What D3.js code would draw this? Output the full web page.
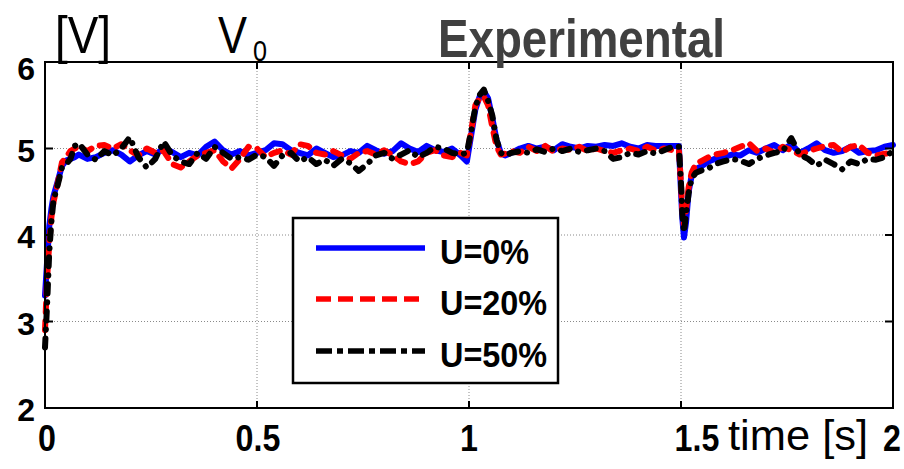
<!DOCTYPE html>
<meta charset="utf-8">
<style>
body { margin: 0; background: #fff; }
text { font-family: "Liberation Sans", Arial, sans-serif; }
.grid line { stroke: #8a8a8a; stroke-width: 1; stroke-dasharray: 1,2; }
.ticks line { stroke: #000; stroke-width: 2; }
</style>
<svg width="904" height="469"></svg>
<script src="https://d3js.org/d3.v7.min.js"></script>
<script>

// time samples [s]
var time = [
  0, 0.005, 0.01, 0.015, 0.02, 0.03, 0.04, 0.05, 0.06, 0.07, 0.08,
  0.10, 0.12, 0.14, 0.16, 0.18, 0.20, 0.22, 0.24, 0.26, 0.28,
  0.30, 0.32, 0.34, 0.36, 0.38, 0.40, 0.42, 0.44, 0.46, 0.48,
  0.50, 0.52, 0.54, 0.56, 0.58, 0.60, 0.62, 0.64, 0.66, 0.68,
  0.70, 0.72, 0.74, 0.76, 0.78, 0.80, 0.82, 0.84, 0.86, 0.88,
  0.90, 0.92, 0.94, 0.96, 0.98,
  0.995, 1.005, 1.015, 1.025, 1.035, 1.045, 1.055, 1.065, 1.075, 1.085,
  1.10, 1.12, 1.14, 1.16, 1.18, 1.20, 1.22, 1.24, 1.26, 1.28,
  1.30, 1.32, 1.34, 1.36, 1.38, 1.40, 1.42, 1.44, 1.46, 1.48, 1.495,
  1.5, 1.503, 1.507, 1.512, 1.518, 1.525, 1.535, 1.55, 1.565, 1.58,
  1.60, 1.62, 1.64, 1.66, 1.68, 1.70, 1.72, 1.74, 1.76, 1.78,
  1.80, 1.82, 1.84, 1.86, 1.88, 1.90, 1.92, 1.94, 1.96, 1.98, 2.0
];

// V0 [V], U=0%
var u0 = [
  3.3, 3.7, 4.1, 4.3, 4.45, 4.62, 4.8, 4.86, 4.88, 4.9, 4.93,
  4.88, 4.90, 4.95, 4.98, 4.93, 4.85, 4.92, 4.97, 4.93, 5.00,
  4.96, 4.90, 4.95, 4.92, 5.02, 5.08, 4.98, 4.93, 4.97, 4.92,
  4.95, 4.98, 5.06, 5.05, 4.98, 4.95, 4.92, 5.00, 4.95, 4.90,
  4.92, 4.97, 4.95, 5.03, 4.98, 4.94, 4.97, 5.06, 5.00, 4.96,
  5.03, 4.98, 4.96, 5.00, 4.92,
  4.85, 5.15, 5.45, 5.6, 5.66, 5.58, 5.35, 5.1, 4.95, 4.92,
  4.95, 5.0, 5.03, 5.0, 5.02, 4.98, 5.05, 5.02, 5.0, 5.03,
  5.02, 5.04, 5.03, 5.06, 5.02, 5.0, 5.04, 5.03, 5.03, 5.03, 5.03,
  4.5, 4.2, 3.97, 4.15, 4.5, 4.68, 4.76, 4.80, 4.85, 4.88,
  4.9, 4.93, 4.92, 4.98, 4.95, 5.0, 5.04, 4.98, 5.05, 4.95,
  5.0, 5.06, 4.98, 4.95, 4.97, 5.02, 4.95, 4.97, 4.98, 5.02, 5.04
];

// U=20%
var u20 = [
  2.9, 3.5, 3.9, 4.2, 4.38, 4.6, 4.84, 4.9, 4.97, 5.0, 5.02,
  4.97, 5.03, 5.04, 5.0, 5.05, 4.98, 4.92, 5.0, 4.95, 4.97,
  4.82, 4.78, 4.85, 4.92, 4.95, 4.98, 4.85, 4.77, 4.88, 5.02,
  5.0, 4.9, 4.95, 4.98, 4.93, 5.05, 5.03, 4.95, 4.93, 4.97,
  4.92, 4.88, 4.95, 4.97, 4.93, 4.98, 4.92, 4.85, 4.82, 4.85,
  4.95, 4.98, 4.92, 4.90, 4.95,
  4.92, 5.2, 5.5, 5.58, 5.6, 5.5, 5.25, 5.02, 4.93, 4.94,
  4.97, 4.95, 5.02, 4.97, 5.03, 4.96, 5.0, 4.98, 5.02, 4.97,
  5.0, 4.97, 4.95, 4.98, 5.0, 4.97, 5.02, 4.98, 5.0, 4.98, 4.98,
  4.6, 4.3, 4.1, 4.3, 4.55, 4.72, 4.82, 4.86, 4.9, 4.93,
  4.95, 4.98, 5.02, 5.06, 4.97, 5.0, 4.95, 5.02, 4.98, 4.93,
  4.97, 5.0, 5.03, 5.04, 4.96, 5.02, 5.04, 4.95, 4.92, 4.94, 4.95
];

// U=50%
var u50 = [
  2.7, 3.2, 3.8, 4.15, 4.4, 4.58, 4.78, 4.82, 4.88, 5.03, 5.06,
  4.93, 4.87, 4.97, 4.92, 5.0, 5.13, 4.9, 4.78, 4.88, 5.08,
  4.92, 4.85, 4.82, 4.95, 4.88, 5.02, 4.95, 4.88, 4.9, 4.87,
  4.93, 4.9, 4.8, 4.92, 4.95, 4.85, 4.9, 4.82, 4.87, 4.8,
  4.88, 4.83, 4.74, 4.82, 4.92, 4.95, 4.88, 4.93, 4.98, 4.9,
  4.95, 5.02, 5.0, 4.95, 4.93,
  4.95, 5.2, 5.48, 5.62, 5.68, 5.55, 5.38, 5.1, 4.95, 4.92,
  4.95, 4.97, 4.95, 4.99, 4.96, 5.0, 4.97, 5.0, 4.96, 4.98,
  5.0, 4.97, 4.88, 4.9, 4.95, 4.93, 4.97, 4.94, 4.98, 5.02, 5.02,
  4.6, 4.25, 4.03, 4.25, 4.48, 4.65, 4.72, 4.75, 4.77, 4.82,
  4.85, 4.88, 4.86, 4.82, 4.88, 4.92, 4.95, 4.97, 5.12, 4.93,
  4.88, 4.8, 4.87, 4.82, 4.76, 4.85, 4.82, 4.88, 4.87, 4.9, 4.97
];

var xTicks = [0, 0.5, 1, 1.5, 2];
var yTicks = [2, 3, 4, 5, 6];
var names = ["U=0%", "U=20%", "U=50%"];
var colors = ["#0000ff", "#ff0000", "#000000"];

var svg = d3.select("svg");
var x = d3.scaleLinear().domain([0, 2]).range([45, 893]);
var y = d3.scaleLinear().domain([2, 6]).range([408, 62]);

// grid
var grid = svg.append("g").attr("class", "grid");
grid.selectAll(".gx").data([0.5, 1, 1.5]).enter().append("line")
    .attr("x1", d => x(d)).attr("x2", d => x(d))
    .attr("y1", y(6)).attr("y2", y(2));
grid.selectAll(".gy").data([3, 4, 5]).enter().append("line")
    .attr("x1", x(0)).attr("x2", x(2))
    .attr("y1", d => y(d)).attr("y2", d => y(d));

// series
var line = d3.line()
    .x((d, i) => x(time[i]))
    .y(d => y(d));

var plotDash = [null, "9,9", "9,9,0.1,9"];

[u0, u20, u50].forEach(function(s, k) {
  svg.append("path")
      .datum(s)
      .attr("d", line)
      .attr("fill", "none")
      .attr("stroke", colors[k])
      .attr("stroke-width", 6)
      .attr("stroke-linejoin", "round")
      .attr("stroke-linecap", "round")
      .attr("stroke-dasharray", plotDash[k]);
});

// axes box + ticks
svg.append("rect")
    .attr("x", x(0)).attr("y", y(6))
    .attr("width", x(2) - x(0)).attr("height", y(2) - y(6))
    .attr("fill", "none").attr("stroke", "#000").attr("stroke-width", 2);

var ticks = svg.append("g").attr("class", "ticks");
xTicks.forEach(function(t) {
  ticks.append("line").attr("x1", x(t)).attr("x2", x(t)).attr("y1", y(2)).attr("y2", y(2) - 7);
  ticks.append("line").attr("x1", x(t)).attr("x2", x(t)).attr("y1", y(6)).attr("y2", y(6) + 7);
});
yTicks.forEach(function(v) {
  ticks.append("line").attr("x1", x(0)).attr("x2", x(0) + 8).attr("y1", y(v)).attr("y2", y(v));
  ticks.append("line").attr("x1", x(2)).attr("x2", x(2) - 8).attr("y1", y(v)).attr("y2", y(v));
});

// tick labels
svg.selectAll(".ylab").data(yTicks).enter().append("text")
    .attr("x", 35)
    .attr("y", d => d === 6 ? y(d) + 18 : y(d) + 13)
    .attr("text-anchor", "end")
    .attr("font-size", 32).attr("font-weight", "bold")
    .text(d => d);

var xLabelPos = { 0: 47, 0.5: 258, 1: 469, 1.5: 697, 2: 892 };
svg.selectAll(".xlab").data(xTicks).enter().append("text")
    .attr("transform", d => "translate(" + xLabelPos[d] + ",451) scale(0.92,1.08)")
    .attr("text-anchor", "middle")
    .attr("font-size", 35).attr("font-weight", "bold")
    .text(d => d);

svg.append("text")
    .attr("x", 728).attr("y", 450)
    .attr("font-size", 43)
    .attr("textLength", 140).attr("lengthAdjust", "spacingAndGlyphs")
    .text("time [s]");

// titles
svg.append("text")
    .attr("x", 55).attr("y", 53)
    .attr("font-size", 52)
    .attr("textLength", 56).attr("lengthAdjust", "spacingAndGlyphs")
    .text("[V]");

svg.append("text")
    .attr("x", 218).attr("y", 53)
    .attr("font-size", 52)
    .attr("textLength", 29).attr("lengthAdjust", "spacingAndGlyphs")
    .text("V");
svg.append("text")
    .attr("x", 253).attr("y", 61)
    .attr("font-size", 30)
    .attr("textLength", 14).attr("lengthAdjust", "spacingAndGlyphs")
    .text("0");

svg.append("text")
    .attr("x", 438).attr("y", 57)
    .attr("font-family", "Lato, 'Open Sans', sans-serif")
    .attr("font-size", 53).attr("font-weight", "bold")
    .attr("fill", "#404040")
    .attr("textLength", 287).attr("lengthAdjust", "spacingAndGlyphs")
    .text("Experimental");

// legend
var legend = svg.append("g");
legend.append("rect")
    .attr("x", 293).attr("y", 218).attr("width", 265).attr("height", 165)
    .attr("fill", "#fff").attr("stroke", "#000").attr("stroke-width", 2.5);

var legendDash = [null, "15,7", "16,5,6,5"];
var legendY = [248, 299, 351];
names.forEach(function(n, k) {
  legend.append("line")
      .attr("x1", 316).attr("x2", 425)
      .attr("y1", legendY[k]).attr("y2", legendY[k])
      .attr("stroke", colors[k]).attr("stroke-width", 5.5)
      .attr("stroke-dasharray", legendDash[k]);
  legend.append("text")
      .attr("transform", "translate(440," + (legendY[k] + 16) + ") scale(0.9,1)")
      .attr("font-size", 36).attr("font-weight", "bold")
      .text(n);
});

</script>
